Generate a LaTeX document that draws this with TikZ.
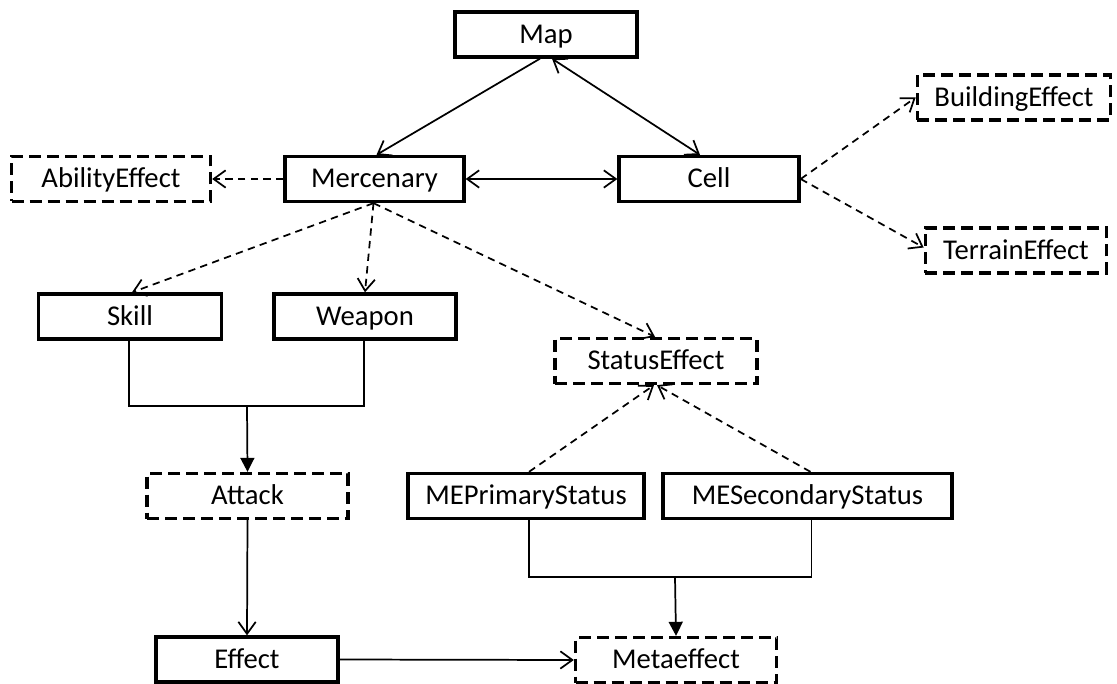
\documentclass[tikz,border=0pt]{standalone}
\usepackage{fontspec}
\setmainfont{Carlito}
\usetikzlibrary{arrows.meta,calc}
\begin{document}
\begin{tikzpicture}[x=0.75pt,y=-0.75pt,
  box/.style={draw, line width=2.5pt, minimum height=33.75pt, inner sep=0pt,
    text height=15pt, text depth=2pt,
    font=\fontsize{21.5}{25}\selectfont, text=black},
  dbox/.style={box, dash pattern=on 9pt off 4.5pt},
  conn/.style={line width=1.3pt},
  oarr/.style={conn, -{Straight Barb[length=9pt,width=13pt,line width=1.3pt]}},
  darr/.style={conn, {Straight Barb[length=9pt,width=13pt,line width=1.3pt]}-{Straight Barb[length=9pt,width=13pt,line width=1.3pt]}},
  doarr/.style={oarr, dash pattern=on 5.5pt off 4pt},
  tarr/.style={conn, -{Triangle[length=10.5pt,width=10.5pt]}}]
\useasboundingbox (0,0) rectangle (1117,684);

\node[box, minimum width=136.5pt] (Map) at (546,34.5) {Map};
\node[box, minimum width=134.25pt] (Mercenary) at (374.5,179) {Mercenary};
\node[box, minimum width=135pt] (Cell) at (709,179) {Cell};
\node[dbox, minimum width=149.25pt] (AbilityEffect) at (111,179) {AbilityEffect};
\node[dbox, minimum width=145pt] (BuildingEffect) at (1014,97.5) {BuildingEffect};
\node[dbox, minimum width=136pt] (TerrainEffect) at (1016,250.5) {TerrainEffect};
\node[box, minimum width=137pt] (Skill) at (130,316.5) {Skill};
\node[box, minimum width=136.5pt] (Weapon) at (365,316.5) {Weapon};
\node[dbox, minimum width=151.5pt] (StatusEffect) at (656,361) {StatusEffect};
\node[dbox, minimum width=150.75pt] (Attack) at (247.5,496) {Attack};
\node[box, minimum width=177pt] (MEPrimary) at (526,496) {MEPrimaryStatus};
\node[box, minimum width=216.75pt] (MESecondary) at (807.5,496) {MESecondaryStatus};
\node[box, minimum width=136.5pt] (Effect) at (247,659.5) {Effect};
\node[dbox, minimum width=150.75pt] (Metaeffect) at (676,660) {Metaeffect};

\draw[oarr] ($(Map.south)+(-6,0)$) -- ($(Mercenary.north)+(2,0)$);
\draw[darr] ($(Map.south)+(6,0)$) -- ($(Cell.north)+(-9,0)$);
\draw[darr] (Mercenary.east) -- (Cell.west);
\draw[doarr] (Mercenary.west) -- (AbilityEffect.east);
\draw[doarr] (Cell.east) -- (BuildingEffect.west);
\draw[doarr] (Cell.east) -- ($(TerrainEffect.west)+(0,-3)$);

\coordinate (mb) at ($(Mercenary.south)+(-1,0)$);
\draw[doarr] (mb) -- ($(Skill.north)+(2,0)$);
\draw[doarr] (mb) -- (Weapon.north);
\draw[doarr] (mb) -- ($(StatusEffect.north)+(-1,0)$);

\coordinate (j1) at (247,406);
\draw[conn] ($(Skill.south)+(-1,0)$) |- (j1) -| ($(Weapon.south)+(-1,0)$);
\draw[tarr] (j1) -- (Attack.north);
\draw[oarr] (Attack.south) -- (Effect.north);
\draw[oarr] (Effect.east) -- (Metaeffect.west);

\draw[doarr] ($(MEPrimary.north)+(3,0)$) -- ($(StatusEffect.south)+(-2,0)$);
\draw[doarr] ($(MESecondary.north)+(3,0)$) -- ($(StatusEffect.south)+(1,0)$);

\coordinate (j2) at (675,577);
\draw[conn] ($(MEPrimary.south)+(3,0)$) |- (j2) -| ($(MESecondary.south)+(4,0)$);
\draw[tarr] (j2) -- (Metaeffect.north);
\end{tikzpicture}
\end{document}
